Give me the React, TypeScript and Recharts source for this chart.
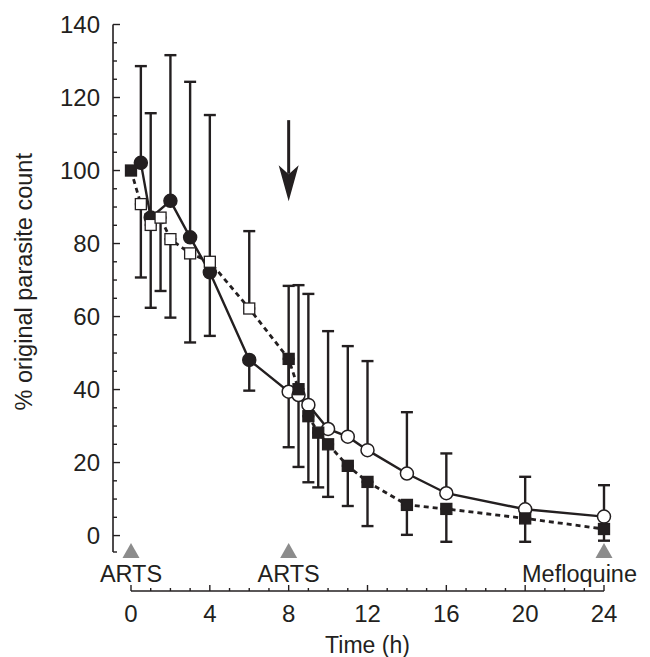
import { ErrorBar, Label, Line, LineChart, ReferenceDot, ReferenceLine, XAxis, YAxis } from 'recharts';

const ink = '#231f20';
const font = '"Liberation Sans", Arial, Helvetica, sans-serif';

// sampling times (h)
const hours = [0, 0.5, 1, 1.5, 2, 3, 4, 6, 8, 8.5, 9, 9.5, 10, 11, 12, 14, 16, 20, 24];

// circles: filled before the 8 h dose, open after
const circleMean = [null, 102.1, 87.1, null, 91.7, 81.7, 72.1, 48.1, 39.4, 38.5, 35.8, null, 29.2, 27.1, 23.4, 17.0, 11.6, 7.2, 5.2];
const circleTop = [null, 128.6, 115.7, null, 131.6, 124.3, 115.2, null, 68.4, 68.6, 66.2, null, 56.0, 51.9, 47.8, 33.8, 22.5, 16.1, 13.8];
const circleBottom = [null, null, null, null, null, null, null, 39.7, null, null, null, null, null, null, null, null, null, null, null];

// squares: open from 0.5 h to 6 h, filled at 0 h and from 8 h
const squareMean = [100, 90.8, 85.1, 87.1, 81.2, 77.3, 75.0, 62.2, 48.4, 40.1, 32.7, 28.2, 25.0, 19.1, 14.7, 8.4, 7.3, 4.7, 1.8];
const squareTop = [null, null, null, null, null, null, null, 83.4, null, null, null, null, null, null, null, null, null, null, null];
const squareBottom = [null, 70.7, 62.4, 67.0, 59.7, 52.9, 54.7, null, 24.2, 18.8, 14.6, 13.2, 10.6, 8.1, 2.6, 0.2, -1.7, -1.7, -1.4];

const redoseHour = 8;

const eventHours = [0, 8, 24];
const eventLabels = ['ARTS', 'ARTS', 'Mefloquine'];

const xTickLabels = [0, 4, 8, 12, 16, 20, 24];
const yTickLabels = [0, 20, 40, 60, 80, 100, 120, 140];

const arrowFrom = 113.8;
const arrowTo = 91.6;

function errOffsets(mean: number | null, top: number | null, bottom: number | null) {
  if (mean == null || (top == null && bottom == null)) return null;
  return [bottom == null ? 0 : mean - bottom, top == null ? 0 : top - mean];
}

const rows = hours.map((h, i) => ({
  h,
  circle: circleMean[i],
  circleErr: errOffsets(circleMean[i], circleTop[i], circleBottom[i]),
  square: squareMean[i],
  squareErr: errOffsets(squareMean[i], squareTop[i], squareBottom[i]),
}));

const xTicks = Array.from({ length: 25 }, (_, i) => i);
const yTicks = [-4.5, ...Array.from({ length: 29 }, (_, i) => i * 5)];

const XTick = (props: any) => {
  const { x, y, payload } = props;
  const major = xTickLabels.includes(payload.value);
  return (
    <g>
      <line x1={x} x2={x} y1={y} y2={y - (major ? 6 : 3)} stroke={ink} strokeWidth={1.4} />
      {major && (
        <text x={x} y={y + 31} textAnchor="middle" fontSize={24} fontFamily={font} fill={ink}>
          {payload.value}
        </text>
      )}
    </g>
  );
};

const YTick = (props: any) => {
  const { x, y, payload } = props;
  const axisX = x - 18;
  const major = yTickLabels.includes(payload.value);
  return (
    <g>
      <line x1={axisX} x2={axisX + (major ? 7 : 4)} y1={y} y2={y} stroke={ink} strokeWidth={1.4} />
      {major && (
        <text x={axisX - 13} y={y} dy="0.36em" textAnchor="end" fontSize={24} fontFamily={font} fill={ink}>
          {payload.value}
        </text>
      )}
    </g>
  );
};

const CircleDot = (props: any) => {
  const { cx, cy, payload } = props;
  if (payload.circle == null || cy == null) return <g />;
  const filled = payload.h < redoseHour;
  return <circle cx={cx} cy={cy} r={6.5} fill={filled ? ink : '#fff'} stroke={ink} strokeWidth={1.5} />;
};

const SquareDot = (props: any) => {
  const { cx, cy, payload } = props;
  if (payload.square == null || cy == null) return <g />;
  const filled = payload.h === 0 || payload.h >= redoseHour;
  return <rect x={cx - 5.5} y={cy - 5.5} width={11} height={11} fill={filled ? ink : '#fff'} stroke={ink} strokeWidth={1.3} />;
};

const ArrowHead = (props: any) => {
  const { cx, cy } = props;
  return <polygon points={`${cx},${cy} ${cx - 10},${cy - 36} ${cx},${cy - 27} ${cx + 10},${cy - 36}`} fill={ink} />;
};

const eventMark = (label: string, last: boolean) => (props: any) => {
  const { cx, cy } = props;
  return (
    <g>
      <polygon points={`${cx},${cy - 7.5} ${cx - 8.5},${cy + 7.5} ${cx + 8.5},${cy + 7.5}`} fill="#8c8c8c" />
      <text
        x={last ? cx + 33 : cx}
        y={cy + 31}
        textAnchor={last ? 'end' : 'middle'}
        fontSize={23.5}
        fontFamily={font}
        fill={ink}
      >
        {label}
      </text>
    </g>
  );
};

const YTitle = (props: any) => {
  const { viewBox } = props;
  const cx = 32;
  const cy = viewBox.y + viewBox.height / 2 - 26;
  return (
    <text x={cx} y={cy} transform={`rotate(-90 ${cx} ${cy})`} textAnchor="middle" fontSize={23.5} fontFamily={font} fill={ink}>
      % original parasite count
    </text>
  );
};

const XTitle = (props: any) => {
  const { viewBox } = props;
  return (
    <text x={viewBox.x + viewBox.width / 2} y={viewBox.y + 62} textAnchor="middle" fontSize={23} fontFamily={font} fill={ink}>
      Time (h)
    </text>
  );
};

export default function App() {
  return (
    <div style={{ position: 'absolute', left: 0, top: 0, background: '#fff' }}>
      <LineChart width={650} height={657} data={rows} margin={{ top: 24.5, right: 46, left: 0, bottom: 0 }}>
        <XAxis
          dataKey="h"
          type="number"
          domain={[0, 24]}
          ticks={xTicks}
          interval={0}
          height={66}
          tickSize={0}
          tickMargin={0}
          tickLine={false}
          axisLine={{ stroke: ink, strokeWidth: 1.6 }}
          tick={<XTick />}
        >
          <Label content={<XTitle />} />
        </XAxis>
        <YAxis
          type="number"
          domain={[-4.5, 140]}
          padding={{ top: 0, bottom: 39 }}
          ticks={yTicks}
          interval={0}
          width={131}
          tickSize={0}
          tickMargin={0}
          tickLine={false}
          axisLine={false}
          tick={<YTick />}
        >
          <Label content={<YTitle />} />
        </YAxis>

        <ReferenceLine
          segment={[{ x: -0.913, y: 140 }, { x: -0.913, y: -4.5 }]}
          ifOverflow="visible"
          stroke={ink}
          strokeWidth={1.6}
        />

        {/* error bars first so markers sit on top */}
        <Line dataKey="circle" stroke="none" dot={false} activeDot={false} connectNulls isAnimationActive={false}>
          <ErrorBar dataKey="circleErr" width={6} stroke={ink} strokeWidth={2.4} direction="y" />
        </Line>
        <Line dataKey="square" stroke="none" dot={false} activeDot={false} connectNulls isAnimationActive={false}>
          <ErrorBar dataKey="squareErr" width={6} stroke={ink} strokeWidth={2.4} direction="y" />
        </Line>

        <Line
          type="linear"
          dataKey="circle"
          stroke={ink}
          strokeWidth={2.4}
          dot={<CircleDot />}
          activeDot={false}
          connectNulls
          isAnimationActive={false}
        />
        <Line
          type="linear"
          dataKey="square"
          stroke={ink}
          strokeWidth={2.8}
          strokeDasharray="5 4"
          dot={<SquareDot />}
          activeDot={false}
          connectNulls
          isAnimationActive={false}
        />

        <ReferenceLine
          segment={[{ x: 8, y: arrowFrom }, { x: 8, y: arrowTo + 7.5 }]}
          ifOverflow="visible"
          stroke={ink}
          strokeWidth={3}
        />
        <ReferenceDot x={8} y={arrowTo} r={0} ifOverflow="visible" shape={<ArrowHead />} />

        {eventHours.map((h, i) => (
          <ReferenceDot
            key={i}
            x={h}
            y={-4.1}
            r={0}
            ifOverflow="visible"
            shape={eventMark(eventLabels[i], i === eventHours.length - 1)}
          />
        ))}
      </LineChart>
    </div>
  );
}
